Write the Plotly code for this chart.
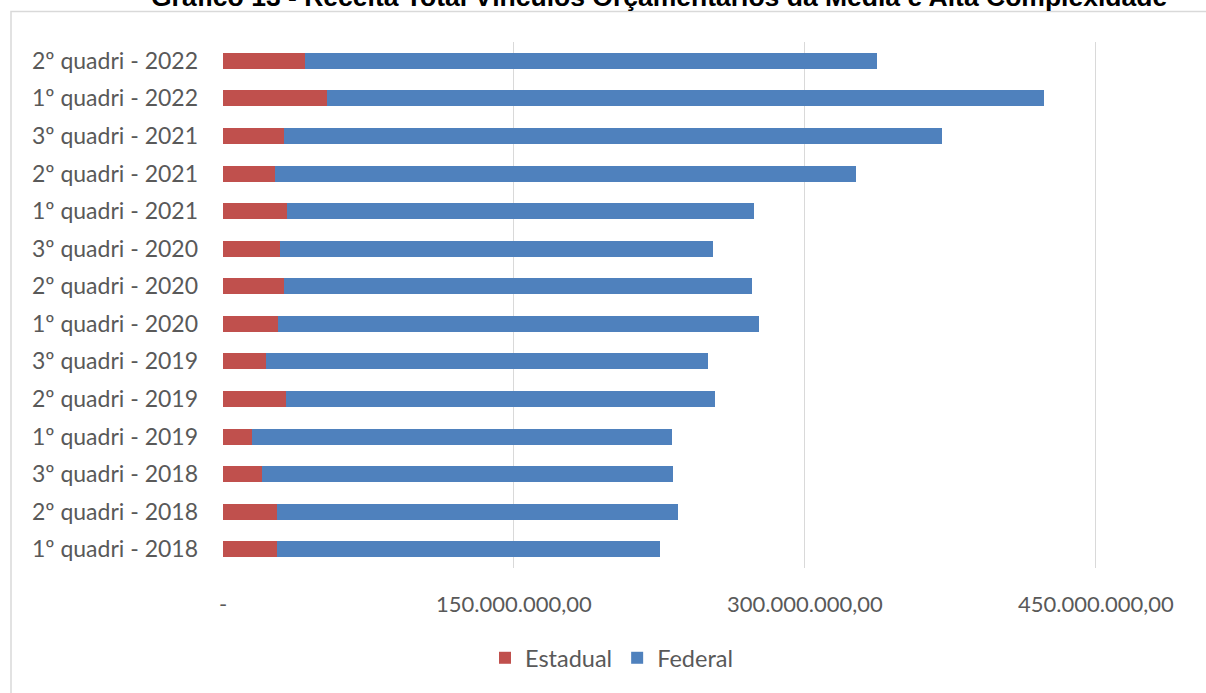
import plotly.graph_objects as go

categories = [
    "1º quadri - 2018", "2º quadri - 2018", "3º quadri - 2018",
    "1º quadri - 2019", "2º quadri - 2019", "3º quadri - 2019",
    "1º quadri - 2020", "2º quadri - 2020", "3º quadri - 2020",
    "1º quadri - 2021", "2º quadri - 2021", "3º quadri - 2021",
    "1º quadri - 2022", "2º quadri - 2022",
]
estadual = [27.6e6, 27.6e6, 20.3e6, 14.7e6, 32.6e6, 22.4e6, 28.2e6,
            31.2e6, 29.6e6, 33.2e6, 26.6e6, 31.6e6, 53.8e6, 42.4e6]
federal = [197.5e6, 206.8e6, 211.9e6, 216.7e6, 221.0e6, 227.4e6, 248.2e6,
           241.6e6, 223.0e6, 240.8e6, 299.7e6, 339.0e6, 369.7e6, 294.7e6]
x_tickvals = [0, 150e6, 300e6, 450e6]
x_ticktext = ["-", "150.000.000,00", "300.000.000,00", "450.000.000,00"]
title_text = "Gráfico 13 - Receita Total Vínculos Orçamentários da Média e Alta Complexidade"

W, H = 1206, 693
ml, mr, mt, mb = 223, 52, 42, 125
pw = W - ml - mr
ph = H - mt - mb

def px_x(p):
    return (p - ml) / pw

def px_y(p):
    return 1 - (p - mt) / ph

fig = go.Figure()
fig.add_trace(go.Bar(y=categories, x=estadual, name="Estadual", orientation="h",
                     marker=dict(color="#C0504D", line=dict(width=0))))
fig.add_trace(go.Bar(y=categories, x=federal, name="Federal", orientation="h",
                     marker=dict(color="#4F81BD", line=dict(width=0))))

fig.update_layout(
    width=W, height=H,
    margin=dict(l=ml, r=mr, t=mt, b=mb, autoexpand=False),
    barmode="stack", bargap=0.574,
    plot_bgcolor="white", paper_bgcolor="white",
    font=dict(family="Lato", color="#595959"),
    xaxis=dict(range=[0, 480e6], tickvals=x_tickvals, ticktext=x_ticktext,
               showgrid=True, gridcolor="#D9D9D9", gridwidth=1, zeroline=False,
               showline=False, ticks="", ticklabelstandoff=21,
               tickfont=dict(family="Lato", size=22, color="#595959")),
    yaxis=dict(categoryorder="array", categoryarray=categories,
               showgrid=False, zeroline=False, showline=False, ticks="",
               ticklabelstandoff=24,
               tickfont=dict(family="Lato", size=23, color="#595959")),
    legend=dict(orientation="h", x=px_x(485), xanchor="left", y=px_y(658),
                yanchor="middle", font=dict(family="Lato", size=23.5, color="#595959"),
                itemwidth=30, traceorder="normal"),
    showlegend=True,
    shapes=[dict(type="rect", xref="paper", yref="paper",
                 x0=px_x(11), x1=px_x(1215), y0=px_y(720), y1=px_y(11.5),
                 line=dict(color="#D9D9D9", width=1.5), fillcolor="rgba(0,0,0,0)",
                 layer="below")],
    annotations=[dict(text="<b>" + title_text + "</b>", xref="paper", yref="paper",
                      x=px_x(659), y=px_y(-3), xanchor="center", yanchor="middle",
                      showarrow=False,
                      font=dict(family="Liberation Sans", size=26.5, color="#000000"))],
)

fig.write_html("out.html", config={"displayModeBar": False},
               post_script="document.body.style.margin='0px';")
